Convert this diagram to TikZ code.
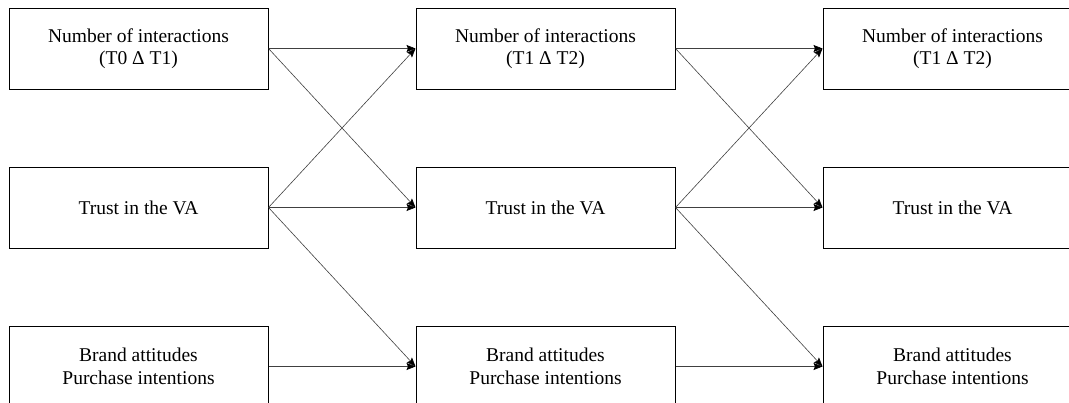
\documentclass[tikz,border=0pt]{standalone}
\usepackage{fontspec}
\setmainfont{Liberation Serif}
\newfontfamily\boxfont{Liberation Serif}
\usetikzlibrary{positioning,arrows.meta}

\begin{document}
\begin{tikzpicture}[x=1pt, y=1pt,
  box/.style={draw, line width=1pt, minimum width=259pt, minimum height=81pt, inner sep=0pt, align=center, font=\boxfont\fontsize{19.5}{22.5}\selectfont},
  link/.style={-{Stealth[length=9pt,width=7pt,inset=1.5pt,color=black,fill=black]}, line width=0.6pt, draw=black!75},
  node distance=77pt and 147pt]
\useasboundingbox (0,0) rectangle (1069,-402);
\clip (0,0) rectangle (1069,-402);
% first wave
\node[box] (num0) at (138.5,-48.5) {Number of interactions\\(T0 Δ T1)};
\node[box, below=of num0] (trust0) {Trust in the VA};
\node[box, below=of trust0] (brand0) {Brand attitudes\\Purchase intentions};
% second wave
\node[box, right=of num0] (num1) {Number of interactions\\(T1 Δ T2)};
\node[box, below=of num1] (trust1) {Trust in the VA};
\node[box, below=of trust1] (brand1) {Brand attitudes\\Purchase intentions};
% third wave
\node[box, right=of num1] (num2) {Number of interactions\\(T1 Δ T2)};
\node[box, below=of num2] (trust2) {Trust in the VA};
\node[box, below=of trust2] (brand2) {Brand attitudes\\Purchase intentions};
% cross-lagged paths
\foreach \a/\b in {0/1,1/2} {
  \draw[link] (num\a.east) -- (num\b.west);
  \draw[link] (num\a.east) -- (trust\b.west);
  \draw[link] (trust\a.east) -- (num\b.west);
  \draw[link] (trust\a.east) -- (trust\b.west);
  \draw[link] (trust\a.east) -- (brand\b.west);
  \draw[link] (brand\a.east) -- (brand\b.west);
}
\end{tikzpicture}
\end{document}
